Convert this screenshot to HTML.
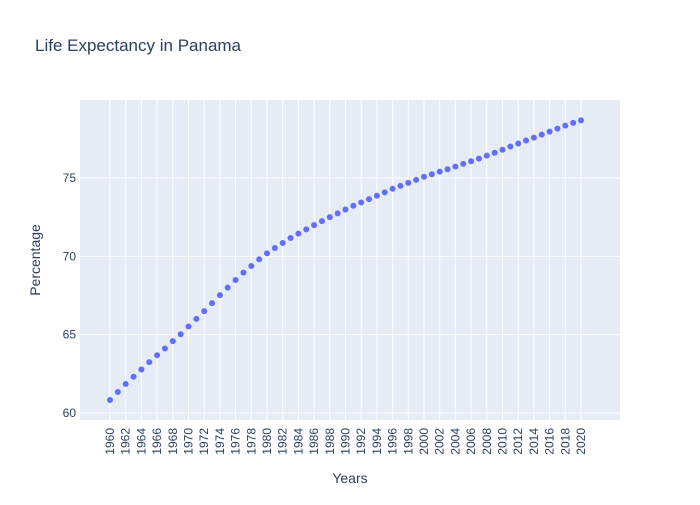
<!DOCTYPE html>
<html><head><meta charset="utf-8"><style>
body{margin:0;background:#fff;font-family:"Liberation Sans",sans-serif}
svg text{font-family:"Liberation Sans",sans-serif;fill:#2a3f5f}
</style></head><body>
<svg id="chart" width="700" height="500">
<rect x="0" y="0" width="700" height="500" fill="#fff"/>
<rect x="80" y="100" width="540" height="320" fill="#e5ecf6"/>
<g id="grid"></g><g id="xt"></g><g id="yt"></g><g id="pts"></g>
<text x="35" y="51" font-size="17">Life Expectancy in Panama</text>
<text x="350" y="483" font-size="14" text-anchor="middle">Years</text>
<text transform="translate(40,260) rotate(-90)" font-size="14" text-anchor="middle">Percentage</text>
</svg>
<script>
const years=[];for(let y=1960;y<=2020;y++)years.push(y);
const values=[60.83,61.34,61.85,62.31,62.78,63.25,63.69,64.12,64.59,65.03,65.52,66.01,66.50,67.01,67.52,68.00,68.49,68.96,69.38,69.81,70.19,70.53,70.85,71.17,71.45,71.72,71.99,72.25,72.50,72.74,72.99,73.23,73.44,73.65,73.87,74.08,74.31,74.50,74.69,74.88,75.08,75.24,75.41,75.56,75.73,75.90,76.07,76.24,76.43,76.61,76.80,77.01,77.20,77.39,77.58,77.77,77.96,78.15,78.34,78.52,78.68];
const yTicks=[60,65,70,75];
const xTicks=[];for(let y=1960;y<=2020;y+=2)xTicks.push(y);
const NS="http://www.w3.org/2000/svg";
function X(v){return 110+(v-1960)*(581-110)/60;}
function Y(v){return 413-(v-60)*(413-178)/15;}
function mk(t,a,p){const e=document.createElementNS(NS,t);for(const k in a)e.setAttribute(k,a[k]);p.appendChild(e);return e;}
const g=document.getElementById('grid'),xt=document.getElementById('xt'),yt=document.getElementById('yt'),pts=document.getElementById('pts');
xTicks.forEach(v=>{
 const l=mk('line',{x1:X(v),x2:X(v),y1:100,y2:420,stroke:'#fff','stroke-width':1},g);
 
 
 const t=mk('text',{transform:`translate(${X(v)+4},428) rotate(-90)`,'font-size':12,'text-anchor':'end'},xt);
 t.textContent=v;
 
 
});
yTicks.forEach(v=>{
 const l=mk('line',{x1:80,x2:620,y1:Y(v),y2:Y(v),stroke:'#fff','stroke-width':1},g);
 
 
 const t=mk('text',{x:76,y:Y(v)+4,'font-size':12,'text-anchor':'end'},yt);
 t.textContent=v;
 
 
});
years.forEach((yr,i)=>{
 const c=mk('circle',{cx:X(yr),cy:Y(values[i]),r:3,fill:'#636efa'},pts);
 
 
});
</script>
</body></html>
